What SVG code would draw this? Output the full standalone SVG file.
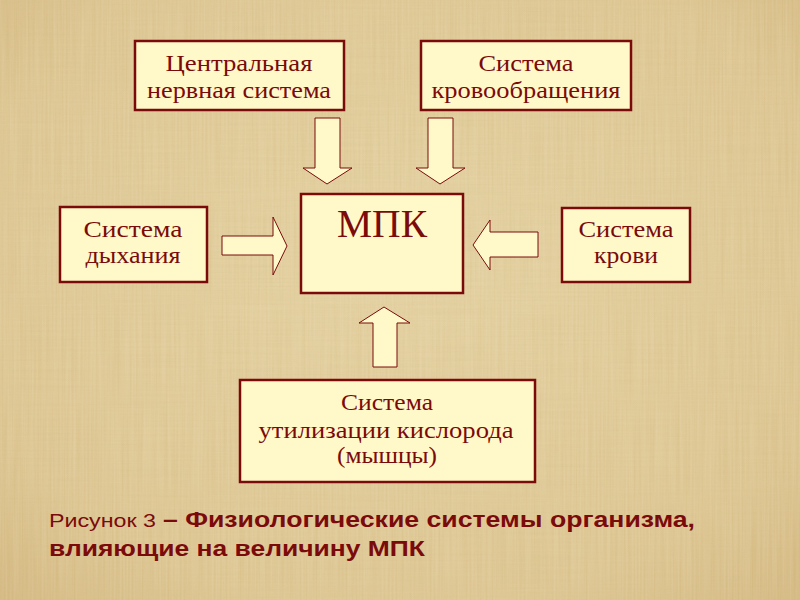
<svg xmlns="http://www.w3.org/2000/svg" width="800" height="600" viewBox="0 0 800 600">
<defs>
<radialGradient id="bg" cx="50%" cy="45%" r="75%">
<stop offset="0" stop-color="#e4d1a1"/>
<stop offset="0.75" stop-color="#dcc48f"/>
<stop offset="1" stop-color="#d2b57d"/>
</radialGradient>
<filter id="texH" x="0" y="0" width="100%" height="100%">
<feTurbulence type="fractalNoise" baseFrequency="0.01 0.5" numOctaves="2" seed="3"/>
<feColorMatrix type="matrix" values="0 0 0 0 0.6  0 0 0 0 0.45  0 0 0 0 0.2  0 0 0 0.5 -0.05"/>
</filter>
<filter id="texV" x="0" y="0" width="100%" height="100%">
<feTurbulence type="fractalNoise" baseFrequency="0.5 0.01" numOctaves="2" seed="7"/>
<feColorMatrix type="matrix" values="0 0 0 0 0.95  0 0 0 0 0.88  0 0 0 0 0.7  0 0 0 0.5 -0.05"/>
</filter>
<style>
.box{fill:#fff9c9;stroke:#7b0a0a;stroke-width:2.5}
.arr{fill:#fff9c9;stroke:#7b0a0a;stroke-width:1}
.t{font-family:"Liberation Serif","Times New Roman",serif;fill:#7b0a0a;font-size:24px;text-anchor:middle}
.cap{font-family:"Liberation Sans",Arial,sans-serif;fill:#7b0a0a}
</style>
</defs>
<rect width="800" height="600" fill="url(#bg)"/>
<rect width="800" height="600" filter="url(#texH)" opacity="0.5"/>
<rect width="800" height="600" filter="url(#texV)" opacity="0.5"/>

<g id="cns">
<rect class="box" x="135" y="41" width="209" height="69"/>
<text class="t" x="239" y="71" textLength="147" lengthAdjust="spacingAndGlyphs">Центральная</text>
<text class="t" x="239" y="98" textLength="184" lengthAdjust="spacingAndGlyphs">нервная система</text>
</g>
<g id="circ">
<rect class="box" x="421" y="41" width="210" height="69"/>
<text class="t" x="526" y="71" textLength="95" lengthAdjust="spacingAndGlyphs">Система</text>
<text class="t" x="526" y="98" textLength="189" lengthAdjust="spacingAndGlyphs">кровообращения</text>
</g>
<g id="mpk">
<rect class="box" x="301" y="194" width="162" height="99"/>
<text class="t" x="382" y="237" style="font-size:40px" textLength="90" lengthAdjust="spacingAndGlyphs">МПК</text>
</g>
<g id="resp">
<rect class="box" x="60" y="207" width="147" height="75"/>
<text class="t" x="133" y="237" textLength="99" lengthAdjust="spacingAndGlyphs">Система</text>
<text class="t" x="133" y="263" textLength="95" lengthAdjust="spacingAndGlyphs">дыхания</text>
</g>
<g id="blood">
<rect class="box" x="562" y="208" width="128" height="74"/>
<text class="t" x="626" y="237" textLength="95" lengthAdjust="spacingAndGlyphs">Система</text>
<text class="t" x="626" y="263" textLength="64" lengthAdjust="spacingAndGlyphs">крови</text>
</g>
<g id="muscle">
<rect class="box" x="240" y="380" width="295" height="102"/>
<text class="t" x="387" y="410" textLength="92" lengthAdjust="spacingAndGlyphs">Система</text>
<text class="t" x="386" y="438" textLength="255" lengthAdjust="spacingAndGlyphs">утилизации кислорода</text>
<text class="t" x="387" y="463" textLength="100" lengthAdjust="spacingAndGlyphs">(мышцы)</text>
</g>

<g id="connectors">
<polygon class="arr" points="315,118 340,118 340,168 352,168 327,184 303,168 315,168"/>
<polygon class="arr" points="428,118 453,118 453,168 465,168 440,184 416,168 428,168"/>
<polygon class="arr" points="222,236 273,236 273,217 287,246 273,275 273,255 222,255"/>
<polygon class="arr" points="538,232 490,232 490,220 473,245 490,270 490,257 538,257"/>
<polygon class="arr" points="373,367 373,323 359,323 384,307 410,323 397,323 397,367"/>
</g>

<g id="caption">
<text class="cap" y="527"><tspan x="49" style="font-size:18px" textLength="107" lengthAdjust="spacingAndGlyphs">Рисунок 3</tspan><tspan x="163" style="font-size:22px;font-weight:bold" textLength="532" lengthAdjust="spacingAndGlyphs">– Физиологические системы организма,</tspan></text>
<text class="cap" x="49" y="556" style="font-size:22px;font-weight:bold" textLength="376" lengthAdjust="spacingAndGlyphs">влияющие на величину МПК</text>
</g>
</svg>
